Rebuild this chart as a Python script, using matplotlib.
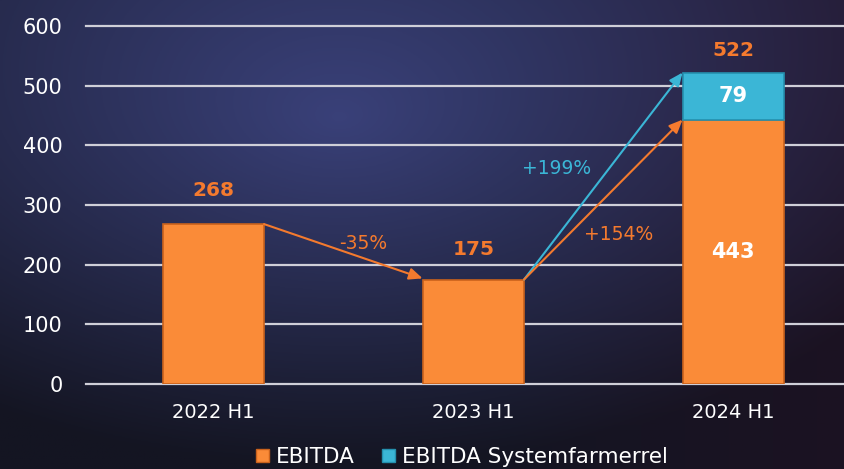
import numpy as np
import matplotlib.pyplot as plt
from matplotlib.patches import Patch

categories = ["2022 H1", "2023 H1", "2024 H1"]
ebitda = [268, 175, 443]
system = [0, 0, 79]
totals = [268, 175, 522]
yticks = [0, 100, 200, 300, 400, 500, 600]
changes = ["-35%", "+199%", "+154%"]

ORANGE = "#FA8B38"
ORANGE_TXT = "#F47A2E"
BLUE = "#3BB6D6"
FONT = "DejaVu Sans"

fig = plt.figure(figsize=(8.45, 4.69), dpi=100)

# background gradient
bg = fig.add_axes([0, 0, 1, 1], zorder=-10)
h, w = 200, 360
yy, xx = np.mgrid[0:h, 0:w]
cx, cy = 0.40 * w, 0.25 * h
d = np.sqrt(((xx - cx) / w) ** 2 + ((yy - cy) / h * 0.9) ** 2)
val = np.clip(1 - d / 0.75, 0, 1)
vert = np.clip(1 - yy / h, 0, 1)
dark = np.array([0x14, 0x15, 0x22]) / 255
light = np.array([0x3a, 0x41, 0x7a]) / 255
mix = np.clip(val * 0.9 + vert * 0.25 - 0.1, 0, 1)[..., None]
img = dark + (light - dark) * mix
tint = np.clip((xx / w - 0.6) / 0.4, 0, 1)[..., None] * np.array([0.03, -0.01, 0.0])
img = np.clip(img + tint, 0, 1)
bg.imshow(img, aspect="auto", extent=[0, 1, 0, 1], origin="upper")
bg.axis("off")

ax = fig.add_axes([86 / 845, 1 - 384 / 469, 1 - 86 / 845, (384 - 26) / 469])
ax.set_facecolor("none")
x = np.arange(len(categories))
bw = 0.39
ax.bar(x, ebitda, bw, color=ORANGE, edgecolor="#C9621C", linewidth=1.2, zorder=3)
ax.bar(x[2], system[2], bw, bottom=ebitda[2], color=BLUE, edgecolor="#2590AE", linewidth=1.2, zorder=3)

ax.set_xlim(-0.49, 2.43)
ax.set_ylim(0, 600)
ax.set_yticks(yticks)
ax.yaxis.grid(True, color="#CFCFD8", linewidth=1.6, zorder=0)
for gl in ax.get_ygridlines():
    gl.set_clip_on(False)
ax.set_axisbelow(True)
for s in ax.spines.values():
    s.set_visible(False)
ax.tick_params(axis="y", length=0, pad=17, labelcolor="white", labelsize=15)
ax.tick_params(axis="x", length=0, pad=14, labelcolor="white", labelsize=14)
ax.set_xticks(x)
ax.set_xticklabels(categories)
for lbl in ax.get_yticklabels() + ax.get_xticklabels():
    lbl.set_fontfamily(FONT)

# total labels
offsets = [34, 30, 22]
for i, t in enumerate(totals):
    ax.annotate(str(t), (x[i], t), xytext=(0, offsets[i]), textcoords="offset pixels",
                ha="center", va="center", color=ORANGE_TXT,
                fontsize=14.5, fontweight="bold", fontfamily=FONT)
ax.annotate(str(ebitda[2]), (x[2], ebitda[2]), xytext=(0, -132), textcoords="offset pixels",
            ha="center", va="center", color="white", fontsize=15, fontweight="bold", fontfamily=FONT)
ax.text(x[2], ebitda[2] + system[2] / 2, str(system[2]), ha="center", va="center", color="white",
        fontsize=15, fontweight="bold", fontfamily=FONT)

# arrows
def arr(x0, y0, x1, y1, c):
    ax.annotate("", xy=(x1, y1), xytext=(x0, y0),
                arrowprops=dict(arrowstyle="-|>,head_length=0.8,head_width=0.35", color=c, lw=1.5,
                                shrinkA=0, shrinkB=0), zorder=5)

arr(x[0] + bw / 2, totals[0], x[1] - bw / 2, totals[1] + 2, ORANGE_TXT)
arr(x[1] + bw / 2, totals[1], x[2] - bw / 2, totals[2], BLUE)
arr(x[1] + bw / 2, totals[1], x[2] - bw / 2, ebitda[2], ORANGE_TXT)

ax.text(0.575, 236, changes[0], ha="center", va="center", color=ORANGE_TXT, fontsize=13.5, fontfamily=FONT)
ax.text(1.32, 362, changes[1], ha="center", va="center", color=BLUE, fontsize=13.5, fontfamily=FONT)
ax.text(1.56, 250, changes[2], ha="center", va="center", color=ORANGE_TXT, fontsize=13.5, fontfamily=FONT)

# legend
handles = [Patch(facecolor=ORANGE, edgecolor="#C9621C"), Patch(facecolor=BLUE, edgecolor="#2590AE")]
leg = fig.legend(handles, ["EBITDA", "EBITDA Systemfarmerrel"], loc="center",
                 bbox_to_anchor=(462 / 845, 1 - 457 / 469), ncol=2, frameon=False,
                 handlelength=0.6, handleheight=0.6, handletextpad=0.3, columnspacing=1.3,
                 prop={"family": FONT, "size": 15.5})
for t in leg.get_texts():
    t.set_color("white")

fig.savefig("out.png", dpi=100)
